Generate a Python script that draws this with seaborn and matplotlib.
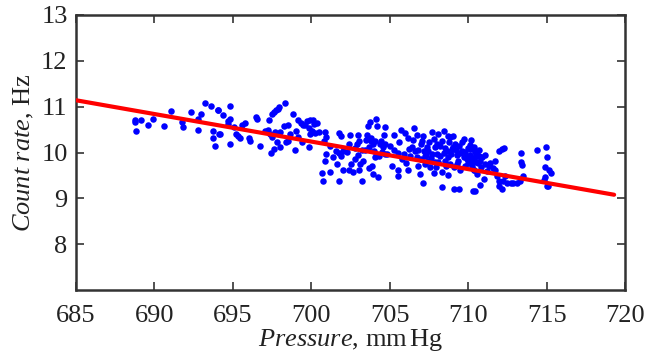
import matplotlib
matplotlib.use("Agg")
import matplotlib.pyplot as plt
import seaborn as sns
import pandas as pd

# --- data ---
pressure = [
    688.74, 688.74, 688.82, 689.16, 689.59, 689.93, 690.61, 691.03, 691.78, 691.80,
    692.31, 692.75, 692.79, 692.95, 693.20, 693.62, 694.03, 693.75, 693.75, 693.86, 694.11,
    694.07, 694.37, 694.84, 694.67, 694.80, 694.71, 694.16, 694.84, 695.05, 695.22,
    695.35, 695.47, 695.60, 695.77, 696.03, 696.07, 696.45, 696.54, 696.71, 697.30,
    697.26, 697.38, 697.47, 697.51, 697.60, 697.73, 697.85, 697.94, 698.02, 698.32,
    698.28, 698.49, 698.37, 698.83, 698.66, 699.04, 699.13, 699.17, 699.47, 699.42,
    697.68, 697.81, 698.02, 697.60, 697.43, 698.96, 698.53, 697.05,
    699.36, 699.57, 699.74, 699.91, 700.09, 700.17, 700.34, 699.87, 700.04, 699.91,
    700.21, 700.47, 700.89, 700.93, 700.81, 699.87, 700.93, 700.89, 701.40, 700.68,
    700.76, 701.19, 701.74, 701.65, 701.78, 701.91, 702.00, 701.74, 701.57, 701.91,
    702.04, 702.46, 702.38, 702.55, 702.68, 702.42, 702.97, 703.06, 702.89, 702.80,
    703.10, 703.06, 703.31, 703.23, 703.44, 703.48, 703.57, 703.61, 703.74, 703.78,
    703.82, 703.91, 703.69, 703.99, 703.87, 703.69, 703.95, 704.25, 704.12, 704.16,
    704.04, 704.38, 704.46, 704.59, 704.71, 704.80, 704.08, 704.29, 704.63,
    704.69, 705.25, 704.99, 704.69, 705.16, 705.50, 705.54, 705.54, 705.93, 706.01,
    706.18, 706.14, 706.52, 706.73, 706.43, 706.61, 706.73, 706.82, 706.90, 707.03,
    706.99, 707.16, 707.24, 707.12, 707.37, 707.45, 707.58, 707.80, 707.67, 707.88,
    708.01, 708.09, 708.22, 708.31, 708.35, 708.43, 708.73, 708.86, 708.94, 708.65,
    708.69, 708.86, 708.69, 709.07, 709.41, 709.16, 709.28, 709.37, 709.49, 709.62,
    709.71, 709.79, 709.88, 710.00, 710.13, 710.26, 710.35, 710.30, 709.11, 708.52,
    707.92, 707.45, 707.24, 708.43,
    710.11, 710.32, 710.45, 710.54, 710.41, 710.66, 710.75, 710.62, 710.24, 710.37,
    710.54, 710.83, 711.04, 711.30, 711.39, 711.60, 711.68, 711.73, 711.81, 711.94,
    711.98, 712.15, 712.24, 712.37, 712.45, 710.45, 710.75, 711.00, 711.98, 712.15,
    712.28, 712.70, 712.87, 713.09, 713.38, 713.34, 713.43, 713.47, 713.30, 714.36,
    714.96, 715.04, 714.87, 715.12, 715.25, 714.91, 714.83, 715.00, 715.09,
    705.30, 705.60, 705.80, 706.20, 706.30, 706.50, 706.80, 707.00, 707.10, 707.30,
    707.50, 707.60, 707.80, 707.90, 708.00, 708.20, 708.30, 708.50, 708.60, 708.80,
    708.90, 709.00, 709.20, 709.30, 709.40, 709.50, 709.60, 709.80, 709.90, 710.00,
    710.10, 710.20, 710.40, 710.50, 710.70, 710.90, 711.10, 711.20, 706.00, 705.70,
    707.70, 708.10, 709.00, 709.70, 710.20, 704.50, 703.20, 702.30, 702.80, 701.20,
    703.00,
]
count_rate = [
    10.72, 10.66, 10.48, 10.72, 10.59, 10.73, 10.58, 10.90, 10.66, 10.55,
    10.88, 10.73, 10.50, 10.83, 11.07, 11.01, 10.92, 10.48, 10.31, 10.15, 10.41,
    10.92, 10.81, 11.02, 10.69, 10.73, 10.63, 10.41, 10.19, 10.55, 10.41,
    10.37, 10.31, 10.61, 10.64, 10.32, 10.26, 10.77, 10.74, 10.15, 10.72,
    10.50, 10.41, 10.34, 10.83, 10.88, 10.92, 10.95, 10.99, 10.45, 11.08,
    10.57, 10.60, 10.23, 10.83, 10.41, 10.48, 10.70, 10.34, 10.60, 10.23,
    10.44, 10.23, 10.12, 10.07, 9.98, 10.06, 10.26, 10.48,
    10.64, 10.61, 10.69, 10.70, 10.72, 10.63, 10.64, 10.54, 10.48, 10.41,
    10.42, 10.44, 10.44, 10.34, 10.26, 10.13, 9.96, 9.82, 9.90, 9.56,
    9.37, 9.58, 9.37, 9.74, 10.42, 10.37, 10.04, 10.00, 10.04, 9.93,
    9.63, 10.38, 10.19, 9.75, 9.58, 9.61, 10.38, 10.26, 10.19, 9.86,
    9.75, 9.63, 9.82, 9.39, 10.06, 10.28, 10.38, 10.57, 10.66, 10.32,
    10.26, 10.19, 10.12, 10.04, 9.71, 9.67, 9.53, 9.46, 10.74, 10.58,
    9.90, 10.19, 10.26, 10.12, 10.19, 9.97, 10.26, 9.93, 10.39,
    10.55, 10.38, 10.15, 9.97, 9.71, 10.00, 9.63, 9.49, 9.97, 9.78,
    9.61, 10.31, 10.54, 10.39, 10.12, 10.04, 9.90, 9.71, 9.53, 10.26,
    10.19, 10.04, 9.93, 9.33, 10.13, 9.82, 9.68, 9.56, 9.97, 10.12,
    9.97, 9.80, 10.15, 9.58, 9.24, 10.48, 10.37, 10.34, 10.07, 10.03,
    9.90, 9.75, 9.50, 9.21, 9.21, 10.19, 9.94, 9.82, 9.61, 10.04,
    9.90, 9.71, 9.93, 9.77, 10.07, 9.82, 9.63, 9.17, 9.68, 9.82,
    9.68, 10.04, 9.74, 10.00,
    10.16, 10.07, 10.02, 9.97, 9.90, 9.93, 9.82, 9.77, 9.71, 9.61,
    9.53, 9.68, 9.74, 9.71, 9.78, 9.67, 9.82, 9.61, 9.49, 9.39,
    9.27, 9.20, 9.39, 9.49, 9.34, 9.17, 9.30, 9.43, 10.04, 10.07,
    10.09, 9.34, 9.34, 9.33, 9.98, 9.80, 9.72, 9.49, 9.39, 10.06,
    10.12, 9.90, 9.69, 9.61, 9.55, 9.46, 9.40, 9.28, 9.26,
    10.05, 10.22, 9.85, 10.08, 9.92, 10.28, 10.05, 9.85, 10.35, 9.95,
    10.22, 9.88, 10.30, 9.80, 10.18, 9.92, 10.25, 10.10, 9.70, 10.22,
    9.97, 10.12, 10.05, 9.75, 10.15, 9.98, 10.22, 10.02, 9.85, 10.10,
    9.95, 9.88, 10.12, 9.80, 10.05, 9.90, 9.95, 9.60, 10.42, 10.50,
    10.45, 10.40, 10.35, 10.30, 10.28, 10.02, 10.05, 10.02, 10.10, 10.15,
    9.95,
]
fit_pressure = [685.0, 719.3]
fit_rate = [11.14, 9.08]

x_ticks = [685, 690, 695, 700, 705, 710, 715, 720]
y_ticks = [8, 9, 10, 11, 12, 13]

# --- plot ---
sns.set_theme(style="ticks")
plt.rcParams["font.family"] = ["Liberation Serif", "DejaVu Serif"]
plt.rcParams["mathtext.fontset"] = "custom"
plt.rcParams["mathtext.rm"] = "Liberation Serif"
plt.rcParams["mathtext.it"] = "Liberation Serif:italic"

df = pd.DataFrame({"p": pressure, "r": count_rate})
fit = pd.DataFrame({"p": fit_pressure, "r": fit_rate})

fig = plt.figure(figsize=(6.58, 3.56), dpi=100)
ax = fig.add_axes([0.1155, 0.185, 0.8345, 0.773])

sns.scatterplot(data=df, x="p", y="r", ax=ax, color="#0000ff", s=22,
                linewidth=0, zorder=2)
sns.lineplot(data=fit, x="p", y="r", ax=ax, color="#ff0000", linewidth=3,
             zorder=3)

ax.set_xlim(685, 720)
ax.set_ylim(7, 13)
ax.set_xticks(x_ticks)
ax.set_yticks(y_ticks)
ax.tick_params(direction="in", length=6, width=1.2, color="#333333",
               top=True, right=True, labelsize=19, labelcolor="#222222")
ax.tick_params(axis="x", pad=11)
ax.tick_params(axis="y", pad=6)
for s in ax.spines.values():
    s.set_linewidth(1.8)
    s.set_color("#333333")

ax.set_xlabel(r"$\mathit{Pressure}$, mm$\,$Hg", fontsize=19, color="#222222", labelpad=0)
ax.set_ylabel(r"$\mathit{Count\ rate}$, Hz", fontsize=19, color="#222222", labelpad=4)

fig.savefig("out.png", dpi=100)
